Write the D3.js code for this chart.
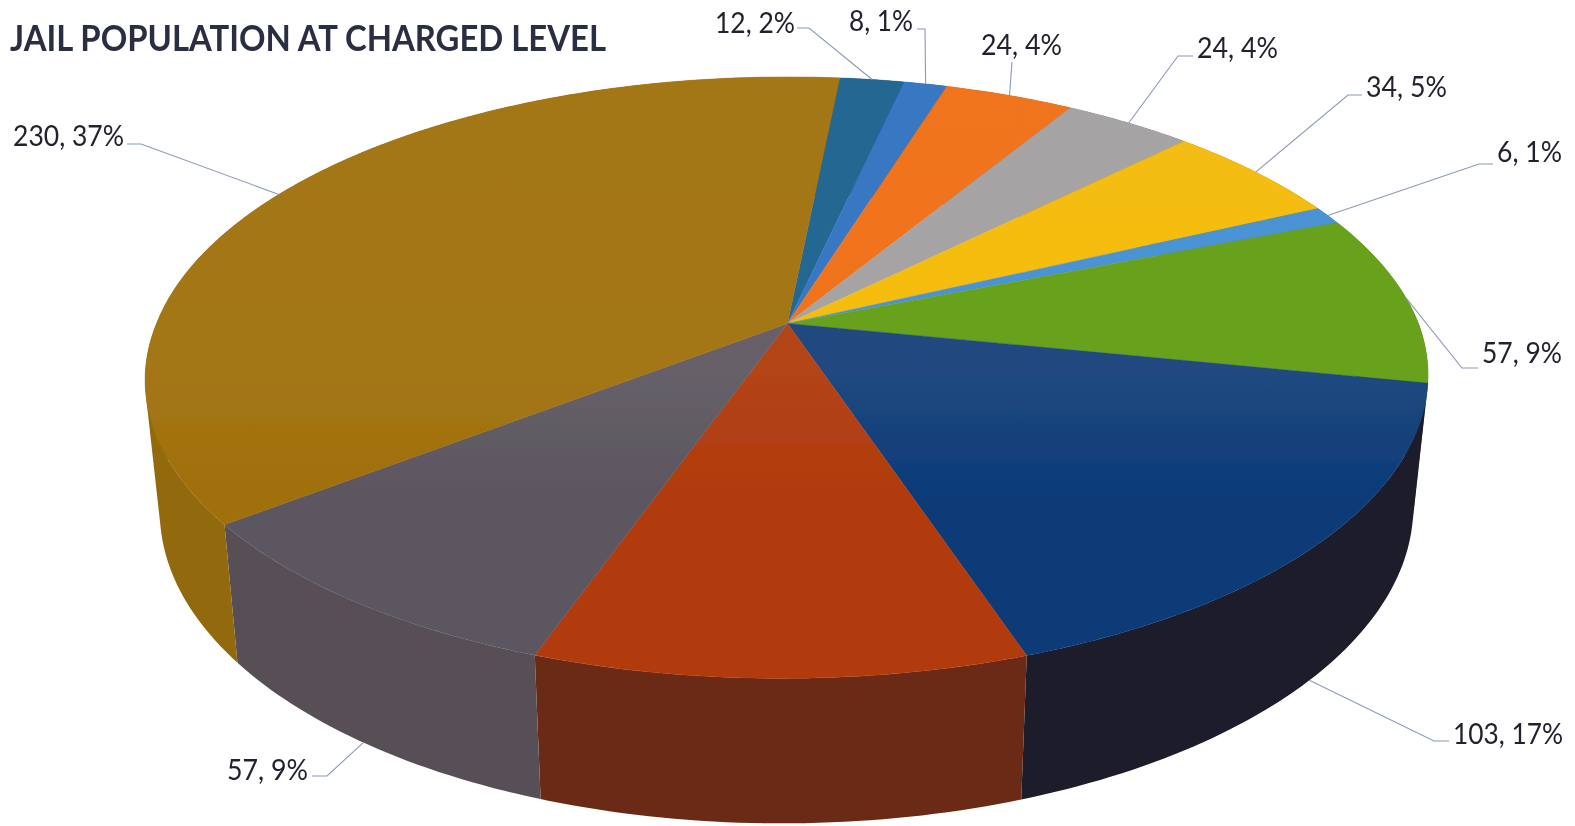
<!DOCTYPE html>
<html>
<head>
<meta charset="utf-8">
<script src="https://cdn.jsdelivr.net/npm/d3@7/dist/d3.min.js"></script>
<style>
html,body{margin:0;padding:0;background:#fff;overflow:hidden}
text{font-family:Lato,"Open Sans",sans-serif}
</style>
</head>
<body>
<svg id="chart" width="1575" height="826"></svg>
<script>
// ---- data ----
const categories = ["A","B","C","D","E","F","G","H","I","J","K"];
const values = [12, 8, 24, 24, 34, 6, 57, 103, 65, 57, 230];
const percents = ["2%","1%","4%","4%","5%","1%","9%","17%",null,"9%","37%"];
const topColors = ["#14608f","#2b72c4","#f36d10","#a3a1a3","#f7bc08","#3f8fd8","#62a015","#0b3a78","#b13a0c","#5c5660","#a06f08"];
const wallColors = ["#0d3f60","#1c4c82","#a04808","#6c6a6c","#a27a05","#295f90","#41690e","#1a1a2c","#6b2a14","#585056","#93690a"];
const sheenStrength = [0.5,0.5,0.5,0.5,0.35,0.5,0.35,0.75,0.5,0.6,0.6];
const titleText = "JAIL POPULATION AT CHARGED LEVEL";

// ---- layout (annotation placement, separate from data) ----
const labelLayout = [
  {i:0, x:715, w:80,  y:33,  elbow:[[809,28],[797,28]], rim:"top"},
  {i:1, x:849, w:64,  y:31,  elbow:[[925,29],[917,29]], rim:"top"},
  {i:2, x:981, w:81,  y:55,  elbow:[[1012,62]], rim:"top"},
  {i:3, x:1197,w:81,  y:58,  elbow:[[1178,56],[1193,56]], rim:"top"},
  {i:4, x:1366,w:81,  y:97,  elbow:[[1348,95],[1362,95]], rim:"top"},
  {i:5, x:1497,w:65,  y:162, elbow:[[1479,164],[1493,164]], rim:"top"},
  {i:6, x:1482,w:80,  y:363, elbow:[[1462,368],[1478,368]], rim:"top"},
  {i:7, x:1453,w:110, y:744, elbow:[[1434,741],[1449,741]], rim:"low"},
  {i:9, x:227, w:81,  y:780, elbow:[[327,776],[312,776]], rim:"low"},
  {i:10,x:13,  w:111, y:146, elbow:[[141,144],[127,144]], rim:"top"}
];
const geo = {cx:787.5, cy:323.5, a:631, b:291, c:0.18, skew:5, startDeg:5.6,
             lowX:0.977, lowY:1.045, lowDy:129};

// ---- projection: the pie's own unit disc seen in perspective ----
function project(theta, r, level){
  const u = Math.sin(theta)*r, v = -Math.cos(theta)*r;
  const d = 1 - geo.c*v;
  const dx = (geo.a*u - geo.skew*Math.max(0,v))/d, dy = geo.b*v/d;
  if(level==="low") return [geo.cx + dx*geo.lowX, geo.cy + geo.lowDy + dy*geo.lowY];
  return [geo.cx + dx, geo.cy + dy];
}

const start = geo.startDeg*Math.PI/180;
const arcs = d3.pie().sort(null).value(d=>d).startAngle(start).endAngle(start+2*Math.PI)(values);
const line = d3.line();
const svg = d3.select("#chart");

const defs = svg.append("defs");
const sheen = defs.append("linearGradient").attr("id","sheen")
  .attr("gradientUnits","userSpaceOnUse").attr("x1",0).attr("x2",0).attr("y1",77).attr("y2",500);
[[0,0.16],[0.7,0.15],[1,0]].forEach(s=>sheen.append("stop")
  .attr("offset",s[0]).attr("stop-color","#c8c0b8").attr("stop-opacity",s[1]));
defs.append("filter").attr("id","soft").attr("x","-5%").attr("y","-5%").attr("width","110%").attr("height","110%")
  .append("feGaussianBlur").attr("stdDeviation",0.5);

const pieG = svg.append("g").attr("filter","url(#soft)");

// side walls: thin quads of one winding, gathered in one path per slice
const STEP = Math.PI/180;
function wallPath(a){
  const angles = d3.range(a.startAngle, a.endAngle, STEP).concat([a.endAngle]);
  return d3.pairs(angles).map(q=>{
    const quad = [project(q[0],1,"top"),project(q[1],1,"top"),project(q[1],1,"low"),project(q[0],1,"low")];
    if(d3.polygonArea(quad)<0) quad.reverse();
    return line(quad)+"Z";
  }).join("");
}
pieG.append("g").selectAll("path").data(arcs).join("path")
  .attr("d",wallPath).attr("fill",(d,i)=>wallColors[i]);

// top face
function sectorPath(a){
  const angles = d3.range(a.startAngle, a.endAngle, STEP/2).concat([a.endAngle]);
  return line([[geo.cx,geo.cy]].concat(angles.map(t=>project(t,1,"top"))))+"Z";
}
pieG.append("g").selectAll("path").data(arcs).join("path")
  .attr("d",sectorPath)
  .attr("fill",(d,i)=>topColors[i]).attr("stroke",(d,i)=>topColors[i]).attr("stroke-width",0.4);
pieG.append("g").selectAll("path").data(arcs).join("path")
  .attr("d",sectorPath).attr("fill","url(#sheen)").attr("fill-opacity",(d,i)=>sheenStrength[i]);

// leader lines and labels
const textG = svg.append("g").attr("filter","url(#soft)");
textG.selectAll("path").data(labelLayout).join("path")
  .attr("d",d=>{
    const a = arcs[d.i], mid = (a.startAngle+a.endAngle)/2;
    return line([project(mid,1,d.rim)].concat(d.elbow));
  })
  .attr("fill","none").attr("stroke","#8b9ab4").attr("stroke-width",1.1);

textG.selectAll("text.lab").data(labelLayout).join("text").attr("class","lab")
  .attr("x",d=>d.x).attr("y",d=>d.y)
  .attr("textLength",d=>d.w).attr("lengthAdjust","spacingAndGlyphs")
  .attr("font-size",28).attr("fill","#22222e")
  .text(d=>values[d.i]+", "+percents[d.i]);

textG.append("text").attr("x",10).attr("y",51)
  .attr("textLength",596).attr("lengthAdjust","spacingAndGlyphs")
  .attr("font-size",37).attr("font-weight",700).attr("fill","#2a2d42")
  .text(titleText);
</script>
</body>
</html>
